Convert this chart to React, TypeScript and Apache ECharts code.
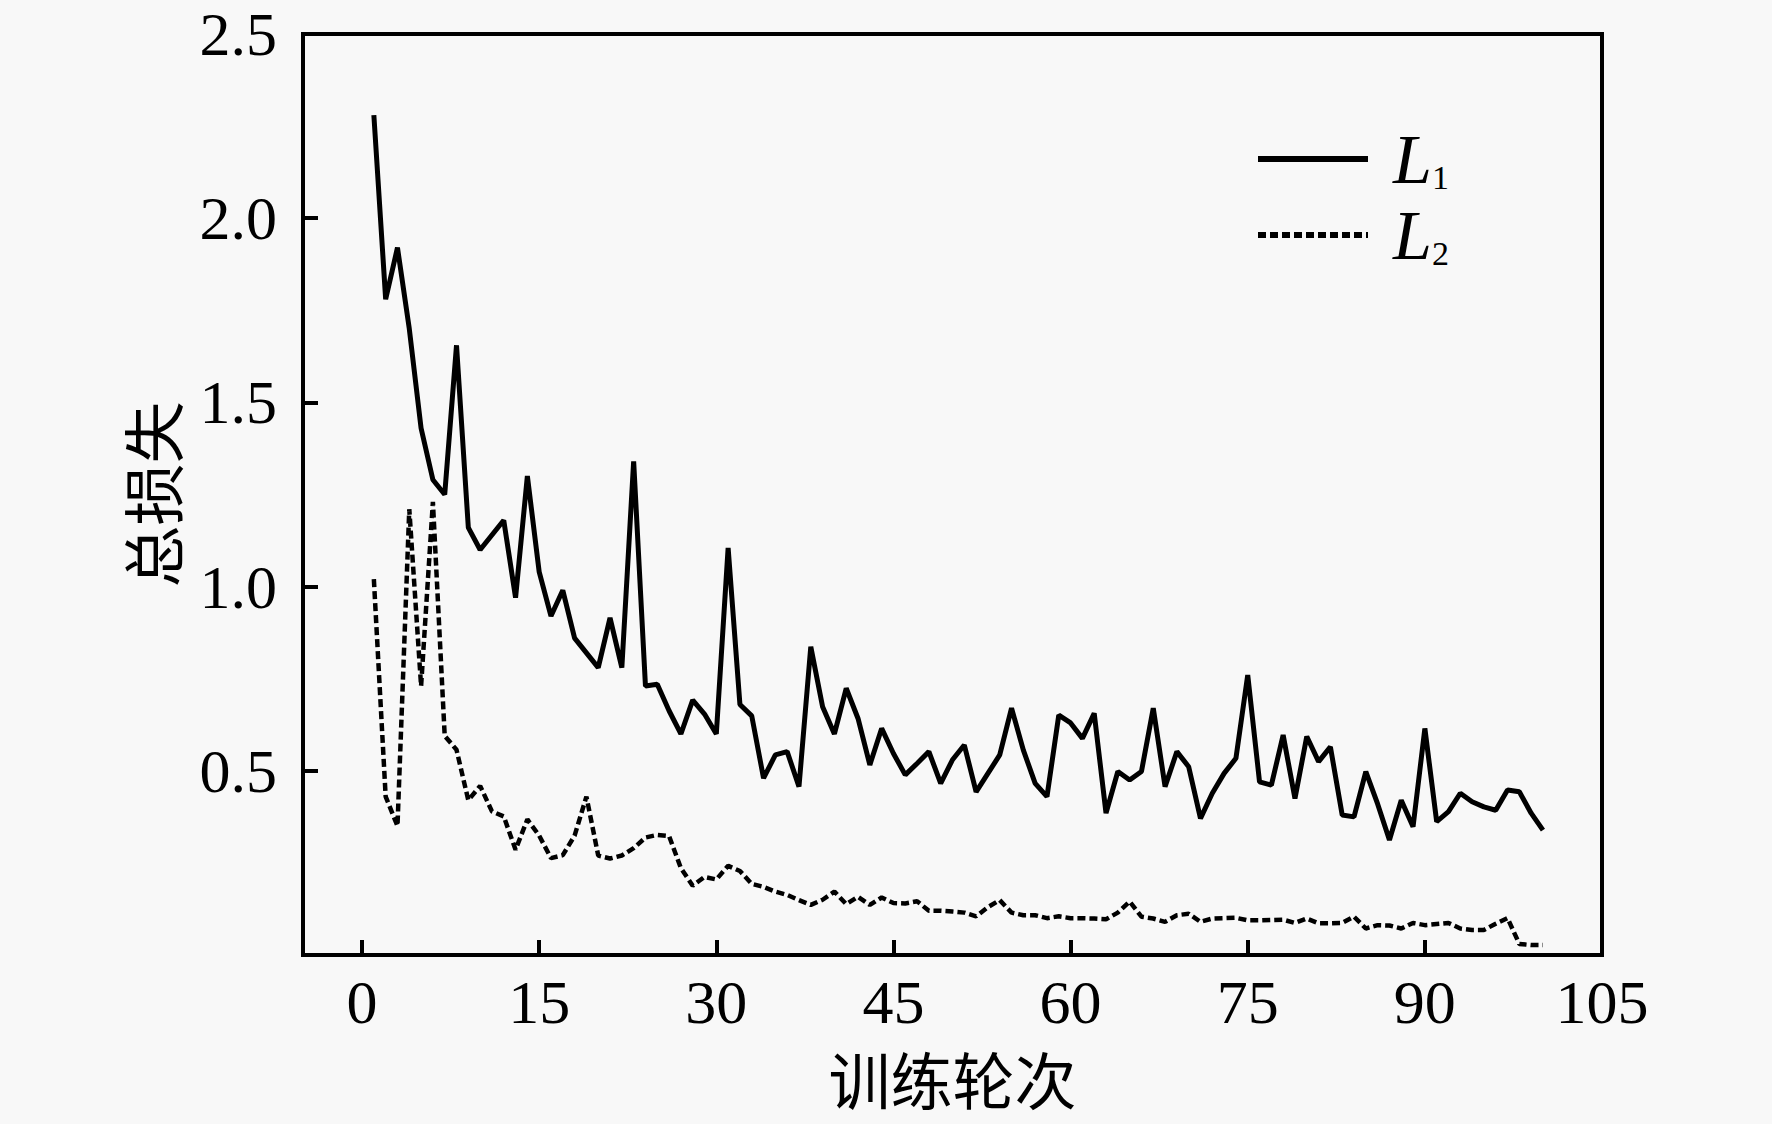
import React, { useEffect, useRef } from "react";
import * as echarts from "echarts";

const xTickValues = [0, 15, 30, 45, 60, 75, 90, 105];
const seriesNames = ["L1", "L2"];

// 总损失 per epoch (epochs 1..100)
const lossL1 = [
  2.28, 1.78, 1.92, 1.70, 1.43, 1.29, 1.25, 1.655, 1.16, 1.10,
  1.14, 1.18, 0.97, 1.30, 1.04, 0.92, 0.99, 0.86, 0.82, 0.78,
  0.915, 0.78, 1.34, 0.73, 0.735, 0.663, 0.60, 0.692, 0.654, 0.60,
  1.105, 0.68, 0.649, 0.48, 0.543, 0.552, 0.457, 0.837, 0.674, 0.60,
  0.724, 0.642, 0.516, 0.615, 0.547, 0.489, 0.52, 0.552, 0.466, 0.53,
  0.57, 0.443, 0.493, 0.543, 0.67, 0.556, 0.466, 0.43, 0.651, 0.63,
  0.588, 0.656, 0.385, 0.498, 0.475, 0.498, 0.67, 0.457, 0.552, 0.511,
  0.371, 0.439, 0.493, 0.534, 0.76, 0.47, 0.461, 0.597, 0.425, 0.593,
  0.525, 0.565, 0.38, 0.375, 0.498, 0.41, 0.312, 0.42, 0.348, 0.615,
  0.362, 0.389, 0.439, 0.416, 0.402, 0.393, 0.448, 0.443, 0.385, 0.339,
];

const lossL2 = [
  1.02, 0.43, 0.35, 1.21, 0.73, 1.23, 0.595, 0.557, 0.42, 0.459,
  0.39, 0.376, 0.286, 0.368, 0.324, 0.263, 0.271, 0.324, 0.43, 0.27,
  0.262, 0.27, 0.29, 0.319, 0.326, 0.323, 0.236, 0.188, 0.212, 0.205,
  0.242, 0.228, 0.193, 0.185, 0.172, 0.163, 0.149, 0.136, 0.15, 0.172,
  0.138, 0.158, 0.136, 0.156, 0.141, 0.14, 0.146, 0.12, 0.12, 0.118,
  0.115, 0.105, 0.13, 0.149, 0.115, 0.108, 0.108, 0.10, 0.105, 0.10,
  0.10, 0.099, 0.097, 0.115, 0.145, 0.104, 0.099, 0.09, 0.108, 0.112,
  0.09, 0.099, 0.10, 0.101, 0.094, 0.094, 0.095, 0.096, 0.087, 0.099,
  0.086, 0.086, 0.087, 0.104, 0.072, 0.081, 0.08, 0.072, 0.087, 0.081,
  0.084, 0.087, 0.072, 0.068, 0.068, 0.085, 0.10, 0.03, 0.027, 0.027,
];

const serif = "'Liberation Serif', 'Times New Roman', serif";
const cjk = "'Noto Sans CJK SC', sans-serif";

export default function App() {
  const ref = useRef<HTMLDivElement>(null);

  useEffect(() => {
    document.body.style.margin = "0";
    const chart = echarts.init(ref.current!, undefined, { renderer: "svg" });
    const toPairs = (arr: number[]) => arr.map((v, i) => [i + 1, v]);
    chart.setOption({
      animation: false,
      backgroundColor: "#f8f8f8",
      grid: {
        left: 303,
        right: 170,
        top: 34,
        bottom: 169,
        show: true,
        borderColor: "#000",
        borderWidth: 4,
        backgroundColor: "transparent",
      },
      legend: {
        orient: "vertical",
        left: 1250,
        top: 119,
        itemWidth: 110,
        itemHeight: 20,
        itemGap: 6,
        data: seriesNames,
        itemStyle: { opacity: 0 },
        lineStyle: { width: 6 },
        formatter: (name: string) => `{i|L}{s|${name.slice(1)}}`,
        textStyle: {
          rich: {
            i: {
              fontFamily: serif,
              fontStyle: "italic",
              fontSize: 70,
              lineHeight: 70,
              color: "#000",
              padding: [0, 0, 0, 20],
            },
            s: {
              fontFamily: serif,
              fontSize: 34,
              lineHeight: 34,
              verticalAlign: "bottom",
              color: "#000",
            },
          },
        },
      },
      xAxis: {
        type: "value",
        min: -5,
        max: 105,
        name: "训练轮次",
        nameLocation: "middle",
        nameGap: 92,
        nameTextStyle: { fontFamily: cjk, fontSize: 62, color: "#000" },
        axisLine: { show: true, onZero: false, lineStyle: { color: "#000", width: 4 } },
        axisTick: {
          show: true,
          inside: true,
          length: 15,
          customValues: xTickValues,
          lineStyle: { color: "#000", width: 4 },
        },
        axisLabel: {
          customValues: xTickValues,
          margin: 16,
          fontFamily: serif,
          fontSize: 62,
          color: "#000",
        },
        splitLine: { show: false },
      },
      yAxis: {
        type: "value",
        min: 0,
        max: 2.5,
        interval: 0.5,
        name: "总损失",
        nameLocation: "middle",
        nameGap: 121,
        nameRotate: 90,
        nameTextStyle: { fontFamily: cjk, fontSize: 62, color: "#000" },
        axisLine: { show: true, onZero: false, lineStyle: { color: "#000", width: 4 } },
        axisTick: { show: true, inside: true, length: 15, lineStyle: { color: "#000", width: 4 } },
        axisLabel: {
          margin: 26,
          fontFamily: serif,
          fontSize: 62,
          color: "#000",
          formatter: (v: number) => (v === 0 ? "" : v.toFixed(1)),
        },
        splitLine: { show: false },
      },
      series: [
        {
          name: seriesNames[0],
          type: "line",
          data: toPairs(lossL1),
          symbol: "none",
          lineStyle: { color: "#000", width: 5, type: "solid" },
          itemStyle: { color: "#000" },
        },
        {
          name: seriesNames[1],
          type: "line",
          data: toPairs(lossL2),
          symbol: "none",
          lineStyle: { color: "#000", width: 4.5, type: [8, 4] },
          itemStyle: { color: "#000" },
        },
      ],
    });
    return () => chart.dispose();
  }, []);

  return (
    <div
      ref={ref}
      style={{ position: "absolute", left: 0, top: 0, width: 1772, height: 1124 }}
    />
  );
}
